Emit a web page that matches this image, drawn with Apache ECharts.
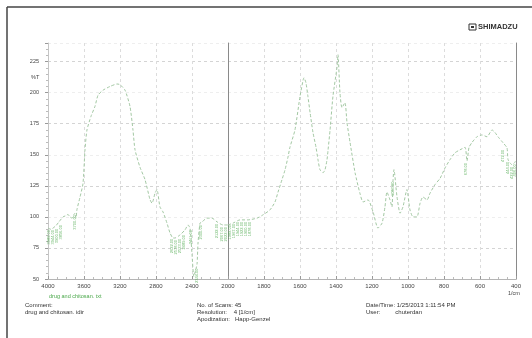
<!DOCTYPE html>
<html>
<head>
<meta charset="utf-8">
<script src="https://cdn.jsdelivr.net/npm/echarts@6/dist/echarts.min.js"></script>
<style>
  html, body { margin: 0; padding: 0; background: #fff; }
  #chart { width: 532px; height: 338px; }
</style>
</head>
<body>
<div id="chart"></div>
<script>
// spectrum, 4000-2000 1/cm (compressed part of the axis)
const highWn = [4000, 3967, 3944, 3911, 3878, 3833, 3800, 3778, 3756, 3733, 3711, 3700, 3689, 3678, 3644, 3611, 3589, 3567, 3522, 3478, 3444, 3389, 3311, 3233, 3200, 3144, 3089, 3056, 3033, 2978, 2922, 2867, 2844, 2811, 2789, 2756, 2722, 2678, 2644, 2611, 2589, 2533, 2478, 2444, 2422, 2400, 2380, 2360, 2344, 2333, 2311, 2289, 2233, 2178, 2122, 2056, 2000];
const highT = [91, 90, 91, 93, 96, 100, 101, 102, 100, 99, 102, 103, 99, 106, 116, 127, 154, 170, 181, 189, 198, 202, 205, 207, 206.5, 202, 189, 170, 154, 140, 130, 114, 111, 119, 122, 108, 104, 95, 87, 83, 83, 85.5, 89.5, 93.5, 91, 70, 52, 57, 62, 79, 95, 96, 99, 99, 96, 93.5, 93.5];

// spectrum, 2000-400 1/cm (expanded part of the axis)
const lowWn = [2000, 1972, 1933, 1889, 1839, 1806, 1767, 1739, 1722, 1700, 1683, 1667, 1656, 1628, 1600, 1583, 1578, 1567, 1556, 1544, 1528, 1511, 1500, 1489, 1472, 1461, 1450, 1444, 1433, 1417, 1394, 1389, 1378, 1367, 1350, 1339, 1322, 1294, 1267, 1250, 1222, 1194, 1167, 1144, 1128, 1117, 1100, 1089, 1083, 1078, 1061, 1044, 1028, 1006, 989, 972, 950, 933, 917, 894, 878, 850, 822, 794, 767, 739, 711, 683, 672, 661, 644, 617, 589, 561, 533, 517, 500, 472, 450, 444, 422, 406, 400];
const lowT = [93.5, 95, 97.6, 97.6, 99, 101.6, 105.6, 112, 120, 130, 138, 148, 156, 170, 197, 210, 212, 208, 197, 184, 168, 156, 146, 138, 135.5, 138, 146, 154, 170, 197, 221, 230.6, 200, 188, 192, 176, 160, 135.5, 119, 112, 113.7, 104, 91, 95, 108, 120, 113.7, 108, 130, 138, 116, 103, 108, 122, 105.6, 100, 100, 111, 116, 113.7, 119, 126, 131, 139.5, 146, 151.6, 154, 156, 145, 156, 160, 164.5, 166, 164.5, 170, 168, 164.5, 159.7, 155.6, 146, 142, 144, 146];

// peak picks (wavenumber, %T at the peak)
const peakWn = [3989, 3944, 3900, 3856, 3700, 2622, 2578, 2533, 2489, 2411, 2344, 2300, 2122, 2067, 2022, 1989, 1967, 1944, 1922, 1900, 1878, 1083, 678, 472, 444, 422, 406];
const peakT = [91, 91, 92, 95, 103, 84, 83, 84, 87, 91, 60, 95, 96, 93.5, 93.5, 95, 96, 97.6, 97.6, 97.6, 97.6, 130, 145, 155.6, 146, 142, 144];

const green = '#4aa84a';
const lineGreen = '#a3c8a3';
const font = 'Liberation Sans';

const pairs = (xs, ys) => xs.map((x, i) => [x, ys[i]]);
const highPeaks = pairs(peakWn, peakT).filter(p => p[0] > 2000);
const lowPeaks = pairs(peakWn, peakT).filter(p => p[0] <= 2000);

const chart = echarts.init(document.getElementById('chart'), null, { renderer: 'canvas' });

const xCommon = {
  type: 'value',
  inverse: true,
  axisLine: { show: true, lineStyle: { color: '#b5b5b5', width: 1 } },
  axisTick: { show: true, inside: true, length: 3, lineStyle: { color: '#999' } },
  minorTick: { show: true, splitNumber: 4, length: 2, lineStyle: { color: '#bbb' } },
  axisLabel: { fontSize: 6, color: '#444', margin: 4, fontFamily: font, formatter: v => String(v) },
  splitLine: { show: true, lineStyle: { type: [3, 3], color: '#dcdcdc' } },
};
const yCommon = {
  type: 'value',
  min: 50,
  max: 240,
  interval: 25,
  splitLine: { show: true, lineStyle: { type: [3, 3], color: ['#eeeeee', '#d4d4d4'] } },
};

const peakSeries = (data, idx) => ({
  type: 'scatter',
  xAxisIndex: idx,
  yAxisIndex: idx,
  data: data,
  symbolSize: 0,
  silent: true,
  label: {
    show: true,
    position: 'bottom',
    distance: 2,
    rotate: 90,
    align: 'right',
    verticalAlign: 'middle',
    fontSize: 4,
    color: green,
    fontFamily: font,
    formatter: p => p.value[0].toFixed(2),
  },
});

chart.setOption({
  animation: false,
  backgroundColor: '#fff',
  textStyle: { fontFamily: font },
  grid: [
    { left: 48, top: 43, width: 180, height: 236 },
    { left: 228, top: 43, width: 288, height: 236 },
  ],
  xAxis: [
    Object.assign({}, xCommon, { gridIndex: 0, min: 2000, max: 4000, interval: 400,
      axisLabel: Object.assign({}, xCommon.axisLabel, { showMinLabel: false }) }),
    Object.assign({}, xCommon, { gridIndex: 1, min: 400, max: 2000, interval: 200 }),
  ],
  yAxis: [
    Object.assign({}, yCommon, {
      gridIndex: 0,
      axisLine: { show: true, lineStyle: { color: '#c5c5c5' } },
      axisTick: { show: true, length: 3, lineStyle: { color: '#999' } },
      minorTick: { show: true, splitNumber: 5, length: 2, lineStyle: { color: '#bbb' } },
      axisLabel: { fontSize: 5.5, color: '#444', margin: 9, fontFamily: font, showMaxLabel: false },
    }),
    Object.assign({}, yCommon, {
      gridIndex: 1,
      axisLine: { show: true, lineStyle: { color: '#8a8a8a' } },
      axisTick: { show: false },
      axisLabel: { show: false },
    }),
    Object.assign({}, yCommon, {
      gridIndex: 1,
      position: 'right',
      axisLine: { show: true, lineStyle: { color: '#8a8a8a' } },
      axisTick: { show: false },
      axisLabel: { show: false },
      splitLine: { show: false },
    }),
  ],
  series: [
    {
      type: 'line', xAxisIndex: 0, yAxisIndex: 0, data: pairs(highWn, highT),
      showSymbol: false, smooth: 0.2, silent: true,
      lineStyle: { color: lineGreen, width: 1, type: [3, 2] },
    },
    {
      type: 'line', xAxisIndex: 1, yAxisIndex: 1, data: pairs(lowWn, lowT),
      showSymbol: false, smooth: 0.2, silent: true,
      lineStyle: { color: lineGreen, width: 1, type: [3, 2] },
    },
    peakSeries(highPeaks, 0),
    peakSeries(lowPeaks, 1),
  ],
  graphic: [
    // page frame
    { type: 'line', shape: { x1: 7, y1: 7, x2: 532, y2: 7 }, style: { stroke: '#444', lineWidth: 1.5 } },
    { type: 'line', shape: { x1: 7, y1: 7, x2: 7, y2: 338 }, style: { stroke: '#444', lineWidth: 1.5 } },
    // logo
    { type: 'rect', shape: { x: 469, y: 24, width: 7, height: 6 }, style: { fill: '#fff', stroke: '#333', lineWidth: 1 } },
    { type: 'rect', shape: { x: 471, y: 26, width: 3, height: 2 }, style: { fill: '#333' } },
    { type: 'text', left: 478, top: 23, style: { text: 'SHIMADZU', fontSize: 7.5, fontWeight: 'bold', fill: '#333', fontFamily: font } },
    // axis captions
    { type: 'text', left: 31, top: 74, style: { text: '%T', fontSize: 5.5, fill: '#444', fontFamily: font } },
    { type: 'text', left: 508, top: 290, style: { text: '1/cm', fontSize: 5.5, fill: '#444', fontFamily: font } },
    { type: 'text', left: 49, top: 293, style: { text: 'drug and chitosan. txt', fontSize: 5.5, fill: green, fontFamily: font } },
    // footer
    { type: 'text', left: 25, top: 302, style: { text: 'Comment:', fontSize: 6, fill: '#333', fontFamily: font } },
    { type: 'text', left: 25, top: 309, style: { text: 'drug and chitosan. idir', fontSize: 6, fill: '#333', fontFamily: font } },
    { type: 'text', left: 197, top: 302, style: { text: 'No. of Scans: 45', fontSize: 6, fill: '#333', fontFamily: font } },
    { type: 'text', left: 197, top: 309, style: { text: 'Resolution:    4 [1/cm]', fontSize: 6, fill: '#333', fontFamily: font } },
    { type: 'text', left: 197, top: 316, style: { text: 'Apodization:   Happ-Genzel', fontSize: 6, fill: '#333', fontFamily: font } },
    { type: 'text', left: 366, top: 302, style: { text: 'Date/Time: 1/25/2013 1:11:54 PM', fontSize: 6, fill: '#333', fontFamily: font } },
    { type: 'text', left: 366, top: 309, style: { text: 'User:         chuterdan', fontSize: 6, fill: '#333', fontFamily: font } },
  ],
});
</script>
</body>
</html>
